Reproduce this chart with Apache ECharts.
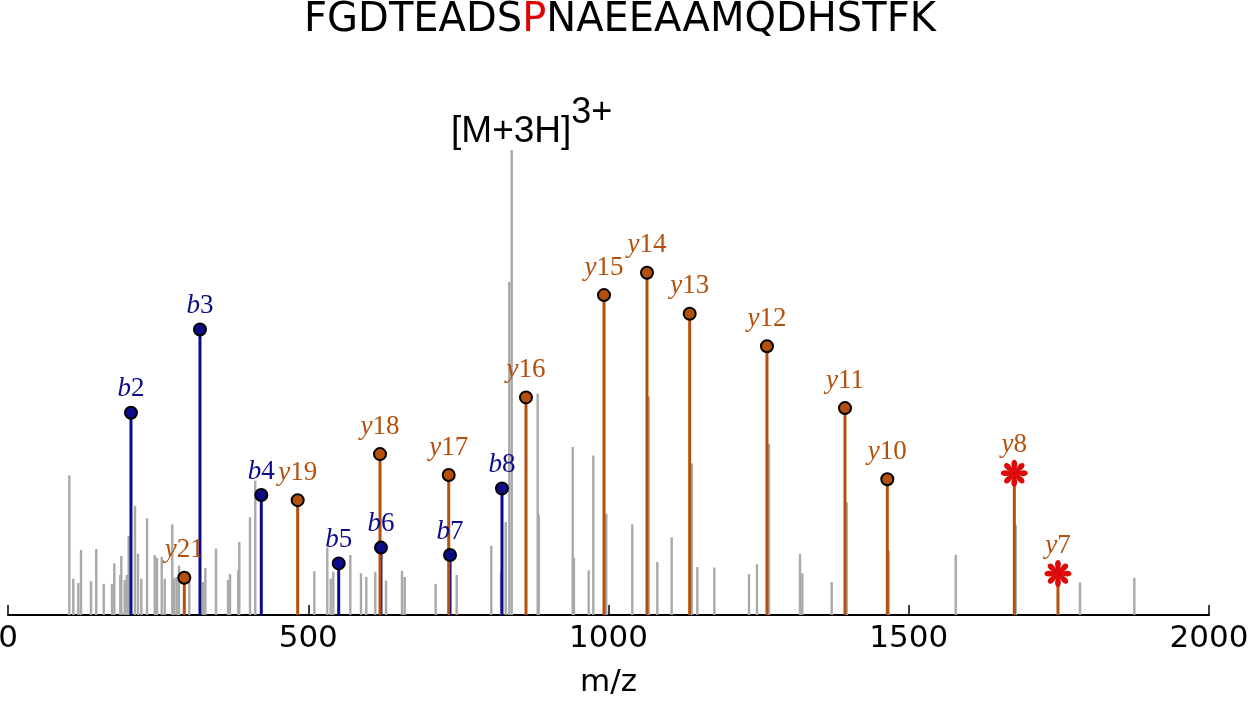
<!DOCTYPE html>
<html>
<head>
<meta charset="utf-8">
<script src="https://cdn.jsdelivr.net/npm/echarts@6/dist/echarts.min.js"></script>
<style>
html,body{margin:0;padding:0;background:#fff;}
#chart{width:1249px;height:701px;}
</style>
</head>
<body>
<div id="chart"></div>
<script>
// ---- data ----
const xTicks = [0, 500, 1000, 1500, 2000];
const grayMz = [102.1,108.7,117.1,121.6,138.2,147.0,159.4,173.2,177.0,187.0,188.7,194.3,197.7,201.0,211.5,216.5,222.0,231.5,244.3,248.1,256.0,261.0,273.6,276.9,280.9,284.8,301.9,324.7,328.6,346.4,366.4,369.7,383.5,385.2,403.0,411.8,510.1,531.7,537.4,541.7,570.0,587.8,596.7,611.7,629.5,656.1,660.6,712.2,747.2,804.8,821.0,828.8,834.8,838.8,882.1,883.8,940.4,942.5,967.0,974.7,996.3,1039.6,1066.9,1081.3,1105.2,1138.6,1147.9,1176.2,1234.0,1247.3,1267.3,1318.9,1322.7,1371.7,1396.7,1466.6,1578.2,1678.1,1785.2,1875.6];
const grayInt = [30.0,7.8,6.9,14.0,7.3,14.2,6.7,6.7,11.1,8.6,12.7,7.5,8.6,17.0,23.5,13.2,7.8,20.8,12.9,12.3,12.5,7.8,19.5,8.0,8.2,10.6,7.8,7.1,10.1,14.3,7.5,8.8,9.7,15.7,21.0,28.9,9.4,14.5,7.8,9.3,12.9,9.0,8.2,9.3,7.4,9.5,8.2,6.7,8.6,14.9,9.1,20.0,71.6,100,47.6,21.6,36.1,12.3,9.6,34.3,21.8,19.5,47.0,11.4,16.7,32.6,10.3,10.2,8.8,10.9,36.8,13.1,9.0,7.1,24.2,13.8,13.0,19.4,7.0,8.0];

const bLabels = ['b2','b3','b4','b5','b6','b7','b8'];
const bMz     = [204.8,319.7,421.8,550.7,621.1,736.1,822.6];
const bInt    = [43.5,61.4,25.8,11.1,14.5,12.9,27.2];

const yLabels = ['y21','y19','y18','y17','y16','y15','y14','y13','y12','y11','y10'];
const yMz     = [293.6,482.4,619.5,733.9,862.6,992.5,1064.1,1135.2,1263.9,1393.8,1464.3];
const yInt    = [8.0,24.7,34.6,30.1,46.8,68.8,73.6,64.8,57.8,44.5,29.2];

const yStarLabels = ['y8','y7'];
const yStarMz     = [1675.8,1748.5];
const yStarInt    = [30.5,8.9];

const precursorLabel = ['[M+3H]', '3+'];
const precursorMz = 838.8;
const precursorInt = 100;

const peptideParts = ['FGDTEADS', 'P', 'NAEEAAMQDHSTFK'];

// ---- styles ----
const GRAY = '#a9a9a9';
const BCOL = '#0c0c8a';
const YCOL = '#b4500c';
const STAR = '#dd0a0a';

// flower-like star symbol path
function flowerPath() {
  const P = (deg, r) => {
    const a = deg * Math.PI / 180;
    return (r * Math.sin(a)).toFixed(3) + ' ' + (-r * Math.cos(a)).toFixed(3);
  };
  let d = 'M' + P(-22.5, 3.8);
  for (let k = 0; k < 8; k++) {
    const c = k * 45;
    d += ' C' + P(c - 21, 13) + ' ' + P(c + 21, 13) + ' ' + P(c + 22.5, 3.8);
  }
  return 'path://' + d + ' Z';
}

function zip(a, b) { return a.map((v, i) => [v, b[i]]); }

function stemSeries(name, data, color, width, z) {
  return {
    name: name,
    type: 'custom',
    z: z,
    silent: true,
    data: data,
    renderItem: function (params, api) {
      const p0 = api.coord([api.value(0), 0]);
      const p1 = api.coord([api.value(0), api.value(1)]);
      return {
        type: 'line',
        shape: { x1: p0[0], y1: p0[1], x2: p1[0], y2: p1[1] },
        style: { stroke: color, lineWidth: width }
      };
    }
  };
}

function ionRich(color) {
  return {
    i: { fontFamily: 'Liberation Serif', fontStyle: 'italic', fontSize: 27, color: color },
    n: { fontFamily: 'Liberation Serif', fontSize: 27, color: color }
  };
}
function ionFormatter(labels) {
  return function (p) {
    const s = labels[p.dataIndex];
    return '{i|' + s.charAt(0) + '}{n|' + s.slice(1) + '}';
  };
}

const chart = echarts.init(document.getElementById('chart'), null, { renderer: 'canvas' });

const option = {
  animation: false,
  backgroundColor: '#fff',
  title: {
    left: 615,
    top: -4,
    textAlign: 'center',
    text: '{n|' + peptideParts[0] + '}{r|' + peptideParts[1] + '}{n|' + peptideParts[2] + '}',
    textStyle: {
      fontWeight: 'normal',
      rich: {
        n: { fontFamily: 'DejaVu Sans', fontWeight: 'normal', fontSize: 40, color: '#000' },
        r: { fontFamily: 'DejaVu Sans', fontWeight: 'normal', fontSize: 40, color: '#e00000' }
      }
    }
  },
  grid: { left: 8, right: 40, top: 150, bottom: 86, containLabel: false, outerBoundsMode: 'none' },
  xAxis: {
    type: 'value',
    min: 0, max: 2000, interval: 500,
    axisLine: { show: true, onZero: false, lineStyle: { color: '#000', width: 2 } },
    axisTick: { show: true, inside: true, length: 10, lineStyle: { color: '#000', width: 1.5 } },
    splitLine: { show: false },
    axisLabel: {
      fontFamily: 'DejaVu Sans', fontSize: 31, color: '#000', margin: 8,
      formatter: function (v) { return xTicks.indexOf(v) >= 0 ? String(v) : ''; }
    },
    name: 'm/z',
    nameLocation: 'middle',
    nameGap: 52,
    nameTextStyle: { fontFamily: 'DejaVu Sans', fontSize: 31, color: '#000' }
  },
  yAxis: { type: 'value', min: 0, max: 100, show: false },
  series: [
    stemSeries('gray', zip(grayMz, grayInt), GRAY, 2.4, 1),
    stemSeries('bstem', zip(bMz, bInt), BCOL, 3, 2),
    stemSeries('ystem', zip(yMz, yInt).concat(zip(yStarMz, yStarInt)), YCOL, 3, 3),
    {
      name: 'b', type: 'scatter', z: 5, silent: true,
      data: zip(bMz, bInt),
      symbol: 'circle', symbolSize: 12,
      itemStyle: { color: BCOL, borderColor: '#000', borderWidth: 2, opacity: 1 },
      label: { show: true, position: 'top', distance: 3, formatter: ionFormatter(bLabels), rich: ionRich(BCOL) }
    },
    {
      name: 'y', type: 'scatter', z: 6, silent: true,
      data: zip(yMz, yInt),
      symbol: 'circle', symbolSize: 12,
      itemStyle: { color: YCOL, borderColor: '#000', borderWidth: 2, opacity: 1 },
      label: { show: true, position: 'top', distance: 7, formatter: ionFormatter(yLabels), rich: ionRich(YCOL) }
    },
    {
      name: 'ystar', type: 'scatter', z: 6, silent: true,
      data: zip(yStarMz, yStarInt),
      symbol: flowerPath(), symbolSize: 27, symbolKeepAspect: true,
      itemStyle: { color: STAR, opacity: 1 },
      label: { show: true, position: 'top', distance: 1, formatter: ionFormatter(yStarLabels), rich: ionRich(YCOL) }
    },
    {
      name: 'precursor', type: 'scatter', z: 7, silent: true,
      data: [[precursorMz, precursorInt]],
      symbolSize: 0,
      itemStyle: { color: '#000', opacity: 1 },
      label: {
        show: true, position: 'top', distance: 0, offset: [20, 0], color: '#000', opacity: 1,
        formatter: '{a|' + precursorLabel[0] + '}{s|' + precursorLabel[1] + '}',
        rich: {
          a: { fontFamily: 'Liberation Sans', fontSize: 37, color: '#000', lineHeight: 55, verticalAlign: 'bottom' },
          s: { fontFamily: 'Liberation Sans', fontSize: 36, color: '#000', lineHeight: 55, verticalAlign: 'top' }
        }
      }
    }
  ]
};
chart.setOption(option);
</script>
</body>
</html>
